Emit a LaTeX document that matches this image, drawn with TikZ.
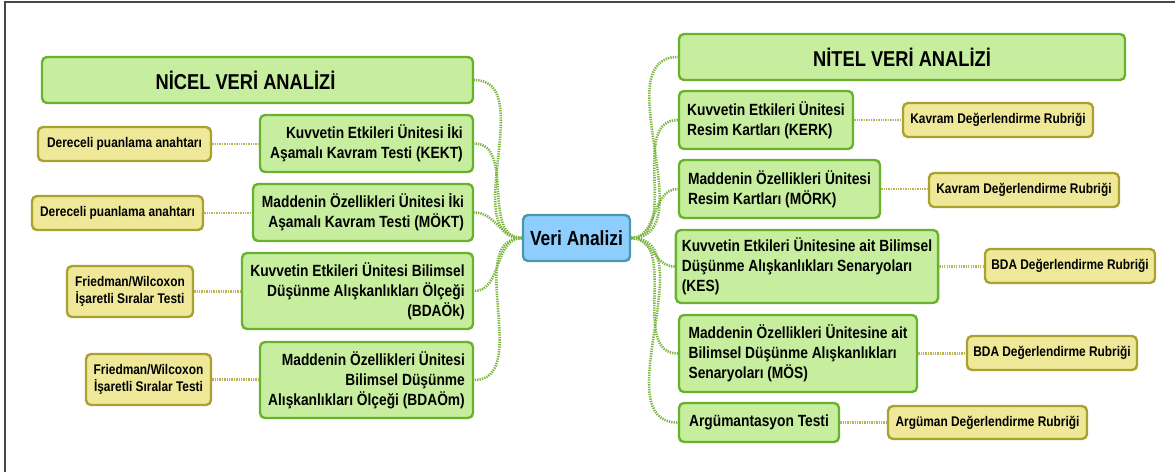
\documentclass[tikz,border=0pt]{standalone}
\usepackage{fontspec}
\setmainfont{Liberation Sans}[FakeStretch=0.85]
\definecolor{boxfill}{RGB}{198,238,158}
\definecolor{boxline}{RGB}{106,178,46}
\definecolor{notefill}{RGB}{238,232,152}
\definecolor{noteline}{RGB}{170,162,46}
\definecolor{rootfill}{RGB}{142,206,255}
\definecolor{rootline}{RGB}{74,152,172}
\definecolor{linkgreen}{RGB}{122,182,62}
\definecolor{linkolive}{RGB}{186,180,84}
\definecolor{framegray}{RGB}{70,70,70}
\tikzset{
  green box/.style={draw=boxline, fill=boxfill, line width=2.4pt, rounded corners=5pt, inner sep=6pt, font=\fontsize{16.2}{20}\selectfont\bfseries},
  head box/.style={green box, align=center, minimum height=46pt, font=\fontsize{21.5}{24}\selectfont\bfseries},
  note box/.style={draw=noteline, fill=notefill, line width=2.4pt, rounded corners=5pt, inner sep=5pt, align=center, minimum height=34pt, font=\fontsize{14}{17}\selectfont\bfseries},
  root box/.style={draw=rootline, fill=rootfill, line width=2.4pt, rounded corners=5pt, inner sep=6pt, align=center, minimum height=46pt, font=\fontsize{20.5}{24}\selectfont\bfseries},
  main link/.style={draw=linkgreen, line width=2.6pt, dash pattern=on 1.3pt off 1.1pt},
  side link/.style={draw=linkolive, line width=2.6pt, dash pattern=on 1.3pt off 1.1pt}
}

\begin{document}
\begin{tikzpicture}[x=1pt,y=-1pt]
  \useasboundingbox (0,0) rectangle (1175,472);
  \draw[framegray, line width=2pt] (5,472) -- (5,2) -- (1175,2);

  % root
  \node[root box, minimum width=107pt] (veri) at (576.5,238) {Veri Analizi};

  % left branch
  \node[head box, minimum width=431pt] (nicel) at (257.5,80) {NİCEL VERİ ANALİZİ\hspace{24pt}};
  \node[green box, align=right, minimum width=213pt, minimum height=57pt] (kekt) at (366.5,143.5) {Kuvvetin Etkileri Ünitesi İki\\Aşamalı Kavram Testi (KEKT)};
  \node[green box, align=right, minimum width=220pt, minimum height=57pt] (mokt) at (363,212.5) {Maddenin Özellikleri Ünitesi İki\\Aşamalı Kavram Testi (MÖKT)};
  \node[green box, align=right, minimum width=231pt, minimum height=76pt] (bdaok) at (357.5,291) {Kuvvetin Etkileri Ünitesi Bilimsel\\Düşünme Alışkanlıkları Ölçeği\\(BDAÖk)};
  \node[green box, align=right, minimum width=213pt, minimum height=76pt] (bdaom) at (366.5,380) {Maddenin Özellikleri Ünitesi\\Bilimsel Düşünme\\Alışkanlıkları Ölçeği (BDAÖm)};

  \node[note box, minimum width=173pt] (dpa1) at (124.5,144) {Dereceli puanlama anahtarı};
  \node[note box, minimum width=171pt] (dpa2) at (117.5,213) {Dereceli puanlama anahtarı};
  \node[note box, minimum width=126pt, minimum height=51pt] (fw1) at (130,291.5) {Friedman/Wilcoxon\\İşaretli Sıralar Testi};
  \node[note box, minimum width=125pt, minimum height=51pt] (fw2) at (148.5,379.5) {Friedman/Wilcoxon\\İşaretli Sıralar Testi};

  % right branch
  \node[head box, minimum width=446pt] (nitel) at (902,57) {NİTEL VERİ ANALİZİ};
  \node[green box, align=left, minimum width=174pt, minimum height=58pt] (kerk) at (766,120) {Kuvvetin Etkileri Ünitesi\\Resim Kartları (KERK)};
  \node[green box, align=left, minimum width=201pt, minimum height=58pt] (mork) at (779.5,189) {Maddenin Özellikleri Ünitesi\\Resim Kartları (MÖRK)};
  \node[green box, align=left, minimum width=256pt, minimum height=73pt] (kes) at (807,266.5) {Kuvvetin Etkileri Ünitesine ait Bilimsel\\Düşünme Alışkanlıkları Senaryoları\\(KES)};
  \node[green box, align=left, minimum width=238pt, minimum height=77pt] (mos) at (798,353.5) {Maddenin Özellikleri Ünitesine ait\\Bilimsel Düşünme Alışkanlıkları\\Senaryoları (MÖS)};
  \node[green box, align=left, minimum width=160pt, minimum height=39pt] (arg) at (759,422.5) {Argümantasyon Testi};

  \node[note box, minimum width=190pt] (kdr1) at (998,120) {Kavram Değerlendirme Rubriği};
  \node[note box, minimum width=190pt] (kdr2) at (1024,190) {Kavram Değerlendirme Rubriği};
  \node[note box, minimum width=170pt] (bdar1) at (1070,266) {BDA Değerlendirme Rubriği};
  \node[note box, minimum width=170pt] (bdar2) at (1052,353) {BDA Değerlendirme Rubriği};
  \node[note box, minimum width=199pt, minimum height=33pt] (argr) at (987.5,422.5) {Argüman Değerlendirme Rubriği};

  % links
  \foreach \n in {nicel,kekt,mokt,bdaok,bdaom}
    \draw[main link] (veri.west) to[out=180,in=0] (\n.east);
  \foreach \n in {nitel,kerk,mork,kes,mos,arg}
    \draw[main link] (veri.east) to[out=0,in=180] (\n.west);
  \foreach \a/\b in {dpa1/kekt,dpa2/mokt,fw1/bdaok,fw2/bdaom,kerk/kdr1,mork/kdr2,kes/bdar1,mos/bdar2,arg/argr}
    \draw[side link] (\a.east) -- (\a.east -| \b.west);
\end{tikzpicture}
\end{document}
